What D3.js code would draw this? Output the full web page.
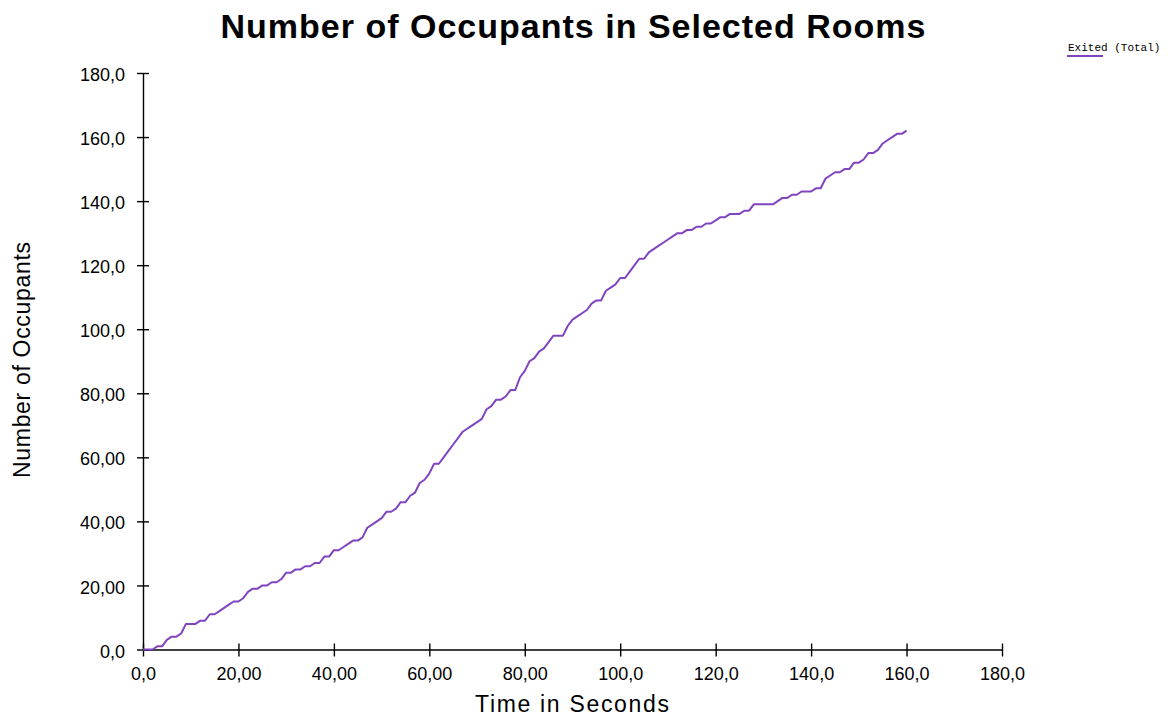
<!DOCTYPE html>
<html>
<head>
<meta charset="utf-8">
<script src="https://cdn.jsdelivr.net/npm/d3@7"></script>
<style>
  html, body { margin: 0; padding: 0; background: #ffffff; }
  svg { display: block; }
</style>
</head>
<body>
<svg id="chart" width="1170" height="718"></svg>
<script>
// Cumulative number of occupants who have exited, sampled once per second
const timeSeconds = d3.range(0, 161);
const exitedTotal = [
  0, 0, 0, 1, 1, 3, 4, 4, 5, 8,
  8, 8, 9, 9, 11, 11, 12, 13, 14, 15,
  15, 16, 18, 19, 19, 20, 20, 21, 21, 22,
  24, 24, 25, 25, 26, 26, 27, 27, 29, 29,
  31, 31, 32, 33, 34, 34, 35, 38, 39, 40,
  41, 43, 43, 44, 46, 46, 48, 49, 52, 53,
  55, 58, 58, 60, 62, 64, 66, 68, 69, 70,
  71, 72, 75, 76, 78, 78, 79, 81, 81, 85,
  87, 90, 91, 93, 94, 96, 98, 98, 98, 101,
  103, 104, 105, 106, 108, 109, 109, 112, 113, 114,
  116, 116, 118, 120, 122, 122, 124, 125, 126, 127,
  128, 129, 130, 130, 131, 131, 132, 132, 133, 133,
  134, 135, 135, 136, 136, 136, 137, 137, 139, 139,
  139, 139, 139, 140, 141, 141, 142, 142, 143, 143,
  143, 144, 144, 147, 148, 149, 149, 150, 150, 152,
  152, 153, 155, 155, 156, 158, 159, 160, 161, 161,
  162
];

const seriesName = "Exited (Total)";
const chartTitle = "Number of Occupants in Selected Rooms";
const xAxisTitle = "Time in Seconds";
const yAxisTitle = "Number of Occupants";

const xTickValues = [0, 20, 40, 60, 80, 100, 120, 140, 160, 180];
const xTickLabels = ["0,0", "20,00", "40,00", "60,00", "80,00", "100,0", "120,0", "140,0", "160,0", "180,0"];
const yTickValues = [0, 20, 40, 60, 80, 100, 120, 140, 160, 180];
const yTickLabels = ["0,0", "20,00", "40,00", "60,00", "80,00", "100,0", "120,0", "140,0", "160,0", "180,0"];

const lineColor = "#8044c0";
const sans = "'Liberation Sans', Arial, sans-serif";

const svg = d3.select("#chart");

const x = d3.scaleLinear().domain([0, 180]).range([143, 1002]);
const y = d3.scaleLinear().domain([0, 180]).range([649.5, 73]);

// Axes: ticks cross the axis line on both sides
const xAxis = d3.axisBottom(x)
  .tickValues(xTickValues)
  .tickFormat((d, i) => xTickLabels[i])
  .tickSizeInner(7)
  .tickSizeOuter(0)
  .tickPadding(11);

const yAxis = d3.axisLeft(y)
  .tickValues(yTickValues)
  .tickFormat((d, i) => yTickLabels[i])
  .tickSizeInner(6)
  .tickSizeOuter(0)
  .tickPadding(12);

const gx = svg.append("g").attr("transform", `translate(0,${y(0)})`).call(xAxis);
const gy = svg.append("g").attr("transform", `translate(${x(0)},0)`).call(yAxis);

[gx, gy].forEach(g => {
  g.select(".domain").attr("stroke", "#000").attr("stroke-width", 1.4);
  g.selectAll(".tick line").attr("stroke", "#000").attr("stroke-width", 1.4);
  g.selectAll(".tick text")
    .attr("fill", "#000")
    .style("font-family", sans)
    .style("font-size", "18px");
});
// extend tick marks to the other side of the axis line
gx.selectAll(".tick line").attr("y1", -6).attr("y2", 7);
gy.selectAll(".tick line").attr("x1", 6).attr("x2", -6);
gy.selectAll(".tick text").attr("dy", "0.42em");

// Data line
const line = d3.line()
  .x((d, i) => x(timeSeconds[i]))
  .y(d => y(d));

svg.append("path")
  .datum(exitedTotal)
  .attr("fill", "none")
  .attr("stroke", lineColor)
  .attr("stroke-width", 2)
  .attr("stroke-linejoin", "round")
  .attr("d", line);

// Title
svg.append("text")
  .attr("x", 573)
  .attr("y", 38)
  .attr("text-anchor", "middle")
  .attr("textLength", 705)
  .attr("lengthAdjust", "spacing")
  .style("font-family", sans)
  .style("font-weight", "bold")
  .style("font-size", "34px")
  .text(chartTitle);

// Axis titles
svg.append("text")
  .attr("x", 572)
  .attr("y", 712)
  .attr("text-anchor", "middle")
  .attr("textLength", 194)
  .attr("lengthAdjust", "spacing")
  .style("font-family", sans)
  .style("font-size", "23px")
  .text(xAxisTitle);

svg.append("text")
  .attr("transform", "translate(30,360) rotate(-90)")
  .attr("text-anchor", "middle")
  .attr("textLength", 236)
  .attr("lengthAdjust", "spacing")
  .style("font-family", sans)
  .style("font-size", "23px")
  .text(yAxisTitle);

// Legend
const legend = svg.append("g").attr("transform", "translate(1067,0)");
legend.append("text")
  .attr("x", 1)
  .attr("y", 51)
  .style("font-family", "'Liberation Mono', 'Courier New', monospace")
  .style("font-size", "11px")
  .attr("fill", "#000")
  .text(seriesName);
legend.append("line")
  .attr("x1", 0).attr("x2", 36)
  .attr("y1", 56).attr("y2", 56)
  .attr("stroke", lineColor)
  .attr("stroke-width", 2);
</script>
</body>
</html>
